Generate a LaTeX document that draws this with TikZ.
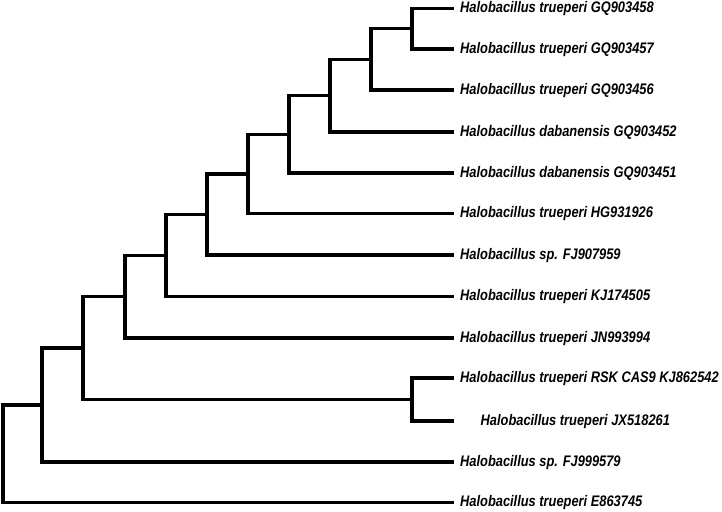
\documentclass[tikz,border=0pt]{standalone}
\usepackage{fontspec}
\usepackage{tikz}
\usetikzlibrary{
    calc,
    positioning
}
\setmainfont{Liberation Sans}[FakeStretch=0.84]

\begin{document}
\begin{tikzpicture}[x=1pt, y=-1pt, line width=3.3pt,
        leaf/.style={anchor=base west, inner sep=0pt, xshift=4.5pt, yshift=-4pt,
            font=\fontsize{15.3}{18}\selectfont\bfseries\itshape},
        branch/.style={draw, line join=miter}]
                        \useasboundingbox (0, 0) rectangle (722, 511);
                        % leaf tips
                        \coordinate (t1) at (454, 8.5);
                        \coordinate (t2) at (454, 49);
                        \coordinate (t3) at (454, 90);
                        \coordinate (t4) at (454, 132);
                        \coordinate (t5) at (454, 173);
                        \coordinate (t6) at (454, 213.5);
                        \coordinate (t7) at (454, 255);
                        \coordinate (t8) at (454, 296.5);
                        \coordinate (t9) at (454, 338);
                        \coordinate (t10) at (454, 378);
                        \coordinate (t11) at (454, 421);
                        \coordinate (t12) at (454, 462);
                        \coordinate (t13) at (454, 502.5);
                        % inner nodes
                        \coordinate (n1) at (412, 28.75);
                        \coordinate (n2) at (371, 59.5);
                        \coordinate (n3) at (330, 95.75);
                        \coordinate (n4) at (289, 134.5);
                        \coordinate (n5) at (248, 174);
                        \coordinate (n6) at (207, 214.5);
                        \coordinate (n7) at (166, 255.5);
                        \coordinate (n8) at (125, 296.5);
                        \coordinate (m1) at (412, 399.5);
                        \coordinate (n9) at (83, 348);
                        \coordinate (n10) at (42, 405);
                        \coordinate (root) at (3, 453.75);
                        % labels
                        \node[leaf] (l1) at (t1) {Halobacillus trueperi GQ903458};
                        \node[leaf] (l2) at (t2) {Halobacillus trueperi GQ903457};
                        \node[leaf] (l3) at (t3) {Halobacillus trueperi GQ903456};
                        \node[leaf] (l4) at (t4) {Halobacillus dabanensis GQ903452};
                        \node[leaf] (l5) at (t5) {Halobacillus dabanensis GQ903451};
                        \node[leaf] (l6) at (t6) {Halobacillus trueperi HG931926};
                        \node[leaf] (l7) at (t7) {Halobacillus sp. FJ907959};
                        \node[leaf] (l8) at (t8) {Halobacillus trueperi KJ174505};
                        \node[leaf] (l9) at (t9) {Halobacillus trueperi JN993994};
                        \node[leaf] (l10) at (t10) {Halobacillus trueperi RSK CAS9 KJ862542};
                        \node[leaf, xshift=20.5pt] (l11) at (t11) {Halobacillus trueperi JX518261};
                        \node[leaf] (l12) at (t12) {Halobacillus sp. FJ999579};
                        \node[leaf] (l13) at (t13) {Halobacillus trueperi E863745};
                        % branches
                        \path[branch]
                        (n1) |- (t1) (n1) |- (t2)
                        (n2) |- (n1) (n2) |- (t3)
                        (n3) |- (n2) (n3) |- (t4)
                        (n4) |- (n3) (n4) |- (t5)
                        (n5) |- (n4) (n5) |- (t6)
                        (n6) |- (n5) (n6) |- (t7)
                        (n7) |- (n6) (n7) |- (t8)
                        (n8) |- (n7) (n8) |- (t9)
                        (m1) |- (t10) (m1) |- (t11)
                        (n9) |- (n8) (n9) |- (m1)
                        (n10) |- (n9) (n10) |- (t12)
                        (root) |- (n10) (root) |- (t13);
                    \end{tikzpicture}
\end{document}
